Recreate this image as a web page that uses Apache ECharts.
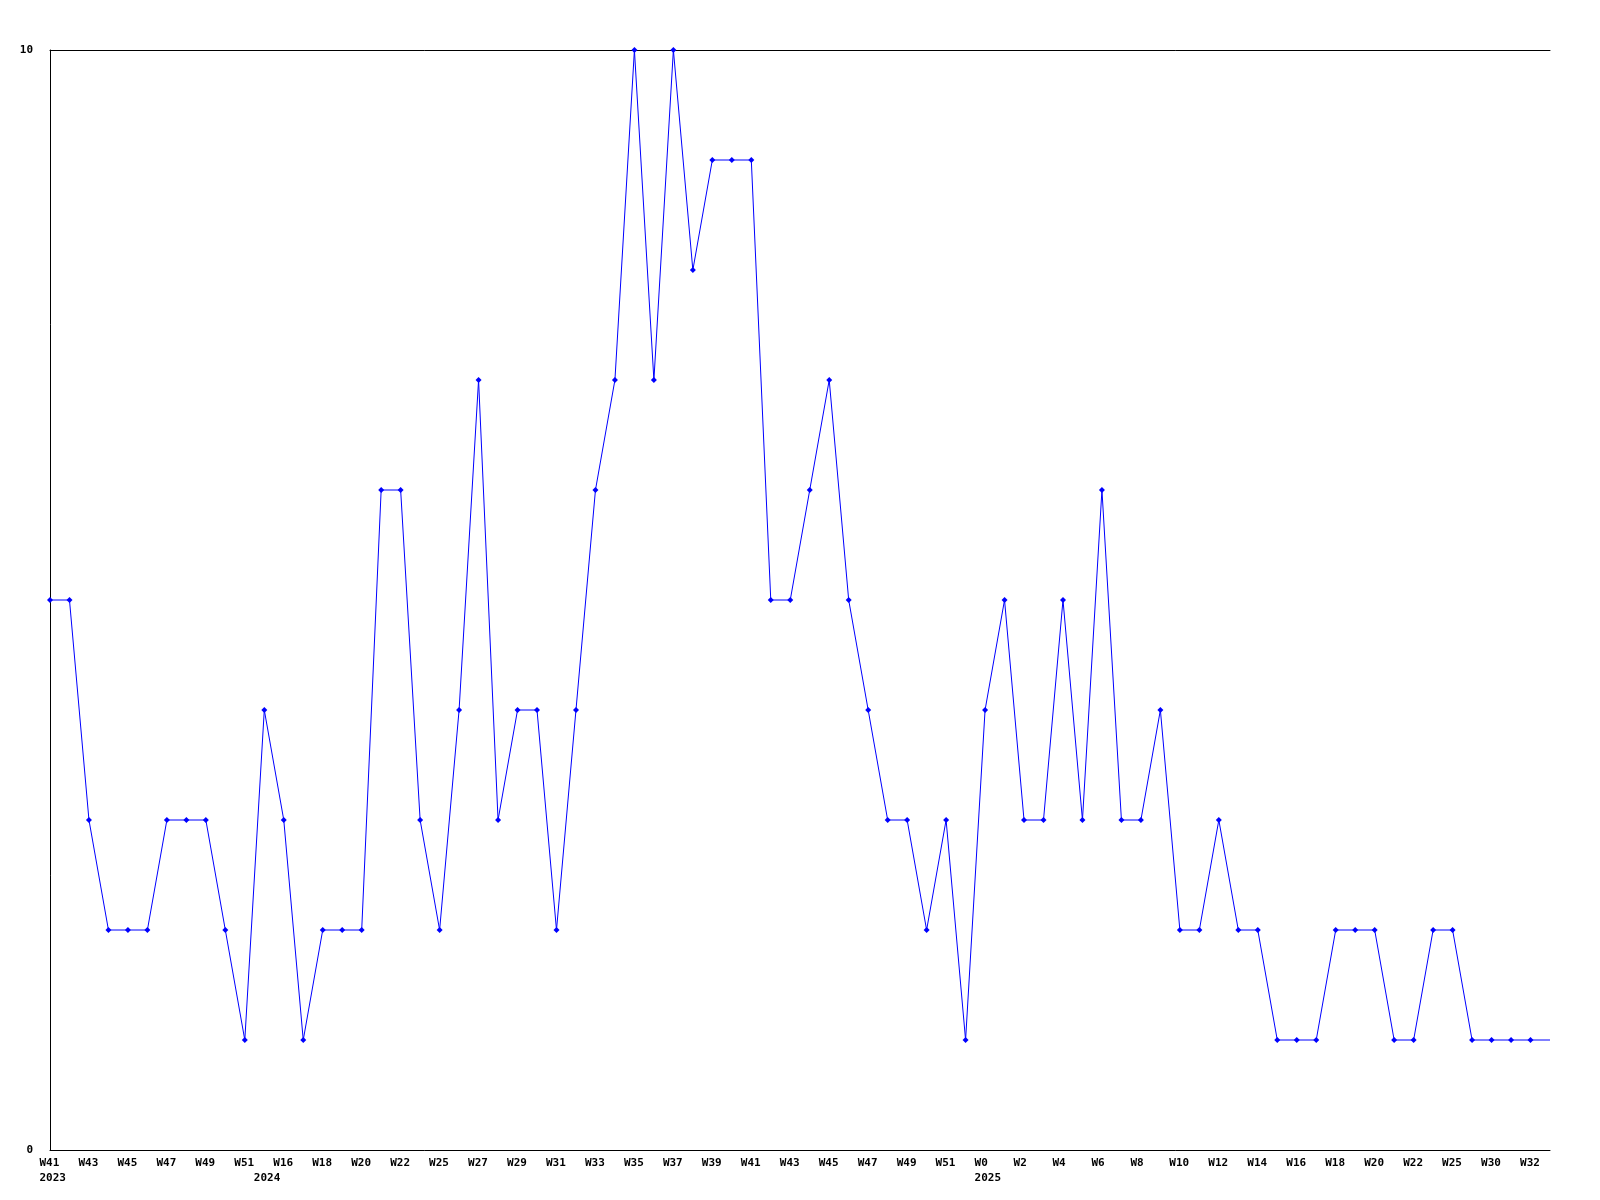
<!DOCTYPE html>
<html>
<head>
<meta charset="utf-8">
<script src="https://cdn.jsdelivr.net/npm/echarts@6/dist/echarts.min.js"></script>
<style>
html,body{margin:0;padding:0;background:#fff;}
#chart{width:1600px;height:1200px;}
</style>
</head>
<body>
<div id="chart"></div>
<script>
const weeks = [
  'W41','W42','W43','W44','W45','W46','W47','W48','W49','W50','W51','W15',
  'W16','W17','W18','W19','W20','W21','W22','W24','W25','W26','W27','W28',
  'W29','W30','W31','W32','W33','W34','W35','W36','W37','W38','W39','W40',
  'W41','W42','W43','W44','W45','W46','W47','W48','W49','W50','W51','W52',
  'W0','W1','W2','W3','W4','W5','W6','W7','W8','W9','W10','W11',
  'W12','W13','W14','W15','W16','W17','W18','W19','W20','W21','W22','W24',
  'W25','W28','W30','W31','W32','W33'
];
const years = [
  '2023','','','','','','','','','','','2024',
  '','','','','','','','','','','','',
  '','','','','','','','','','','','',
  '','','','','','','','','','','','',
  '2025','','','','','','','','','','','',
  '','','','','','','','','','','','',
  '','','','','',''
];
const values = [
  5,5,3,2,2,2,3,3,3,2,1,4,
  3,1,2,2,2,6,6,3,2,4,7,3,
  4,4,2,4,6,7,10,7,10,8,9,9,
  9,5,5,6,7,5,4,3,3,2,3,1,
  4,5,3,3,5,3,6,3,3,4,2,2,
  3,2,2,1,1,1,2,2,2,1,1,2,
  2,1,1,1,1,1
];
const yTicks = [0, 10];

const lastIdx = values.length - 1;
const seriesData = values.map((v, i) => i === lastIdx ? {value: v, symbol: 'none'} : v);

const font = {fontFamily: 'DejaVu Sans Mono', fontWeight: 'bold', fontSize: 11, color: '#000'};

const chart = echarts.init(document.getElementById('chart'), null, {renderer: 'canvas'});
chart.setOption({
  animation: false,
  backgroundColor: '#fff',
  grid: {left: 50, right: 50, top: 50, bottom: 50, containLabel: false},
  xAxis: [{
    type: 'category',
    data: weeks,
    boundaryGap: false,
    position: 'bottom',
    axisLine: {show: true, lineStyle: {color: '#000', width: 1}},
    axisTick: {show: false},
    splitLine: {show: false},
    axisLabel: Object.assign({
      interval: (i) => i % 2 === 0 || years[i] !== '',
      formatter: (v, i) => {
        const w = i % 2 === 0 ? v : ' ';
        return '{l|' + w + '}' + (years[i] ? '\n{l|' + years[i] + '}' : '');
      },
      rich: {l: Object.assign({width: 21, align: 'left', lineHeight: 15}, font)},
      margin: 6, lineHeight: 15, align: 'center', hideOverlap: false
    }, font)
  }, {
    type: 'category',
    data: weeks,
    boundaryGap: false,
    position: 'top',
    axisLine: {show: true, onZero: false, lineStyle: {color: '#000', width: 1}},
    axisTick: {show: false},
    axisLabel: {show: false},
    splitLine: {show: false}
  }],
  yAxis: {
    type: 'value',
    min: yTicks[0],
    max: yTicks[1],
    interval: yTicks[1] - yTicks[0],
    axisLine: {show: true, lineStyle: {color: '#000', width: 1}},
    axisTick: {show: false},
    splitLine: {show: false},
    axisLabel: Object.assign({margin: 17}, font)
  },
  series: [{
    type: 'line',
    data: seriesData,
    symbol: 'diamond',
    symbolSize: 6,
    showSymbol: true,
    lineStyle: {color: '#0000ff', width: 1},
    itemStyle: {color: '#0000ff'},
    clip: false
  }]
});
</script>
</body>
</html>
